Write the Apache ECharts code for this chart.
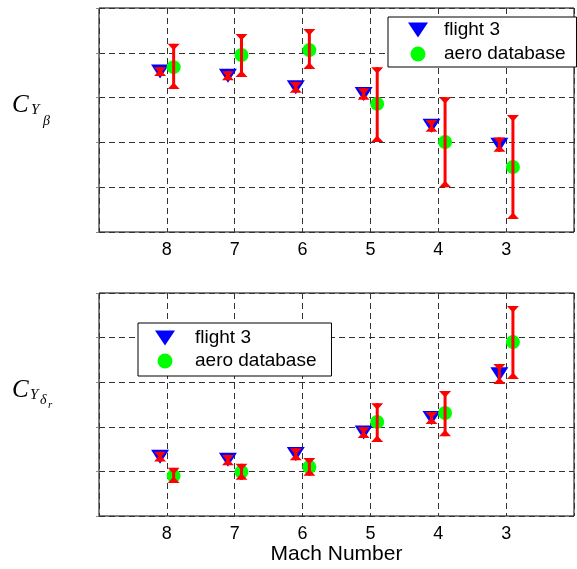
<!DOCTYPE html>
<html><head><meta charset="utf-8">
<script src="https://cdn.jsdelivr.net/npm/echarts@6/dist/echarts.min.js"></script>
<style>html,body{margin:0;padding:0;background:#fff}#c{width:577px;height:569px}</style>
</head><body><div id="c"></div>
<script>
// ---- data ----
const mach = [8, 7, 6, 5, 4, 3];
const machTickLabels = ['8', '7', '6', '5', '4', '3'];

// C_Y_beta panel
const betaFlight     = [3.58, 3.49, 3.23, 3.08, 2.37, 1.95];
const betaFlightLow  = [3.48, 3.39, 3.11, 2.95, 2.24, 1.79];
const betaFlightHigh = [3.68, 3.59, 3.35, 3.21, 2.50, 2.11];
const betaAero       = [3.68, 3.95, 4.06, 2.86, 2.01, 1.45];
const betaAeroLow    = [3.19, 3.46, 3.64, 2.01, 1.00, 0.29];
const betaAeroHigh   = [4.20, 4.42, 4.53, 3.68, 3.01, 2.61];

// C_Y_delta_r panel
const drFlight     = [1.33, 1.26, 1.39, 1.87, 2.20, 3.18];
const drFlightLow  = [1.22, 1.14, 1.25, 1.75, 2.06, 2.96];
const drFlightHigh = [1.44, 1.37, 1.52, 1.99, 2.33, 3.41];
const drAero       = [0.90, 0.99, 1.10, 2.11, 2.31, 3.90];
const drAeroLow    = [0.74, 0.81, 0.90, 1.66, 1.79, 3.07];
const drAeroHigh   = [1.08, 1.17, 1.30, 2.53, 2.80, 4.71];

// ---- styling constants ----
const FLIGHT_SHIFT = 0.1, AERO_SHIFT = -0.1;
const SANS = "'Liberation Sans', Arial, sans-serif";
const SERIF = "'Liberation Serif', 'Times New Roman', serif";
const TRI = 'path://M0,0L20,0L10,15Z';

const chart = echarts.init(document.getElementById('c'), null, {renderer: 'canvas'});

function pts(vals, shift) { return mach.map((m, i) => [m + shift, vals[i]]); }
function errs(lo, hi, shift) { return mach.map((m, i) => [m + shift, lo[i], hi[i]]); }

function errRender(params, api) {
  const top = api.coord([api.value(0), api.value(2)]);
  const bot = api.coord([api.value(0), api.value(1)]);
  const w = 6, h = 6.5;
  return {
    type: 'group',
    children: [
      {type: 'line', shape: {x1: top[0], y1: top[1], x2: bot[0], y2: bot[1]}, style: {stroke: '#ff0000', lineWidth: 3}},
      {type: 'polygon', shape: {points: [[top[0]-w, top[1]], [top[0]+w, top[1]], [top[0], top[1]+h]]}, style: {fill: '#ff0000'}},
      {type: 'polygon', shape: {points: [[bot[0]-w, bot[1]], [bot[0]+w, bot[1]], [bot[0], bot[1]-h]]}, style: {fill: '#ff0000'}}
    ]
  };
}

function xAxisFor(idx, withName) {
  const ax = {
    type: 'value', gridIndex: idx, min: 2, max: 9, interval: 1, inverse: true,
    axisLine: {show: false}, axisTick: {show: false},
    axisLabel: {
      color: '#000', fontSize: 18, fontFamily: SANS, margin: 9,
      formatter: v => { const i = mach.indexOf(v); return i >= 0 ? machTickLabels[i] : ''; }
    },
    splitLine: {show: true, lineStyle: {color: '#333', type: [6, 4], width: 1}}
  };
  if (withName) {
    ax.name = 'Mach Number';
    ax.nameLocation = 'middle';
    ax.nameGap = 25;
    ax.nameTextStyle = {color: '#000', fontSize: 21, fontFamily: SANS};
  }
  return ax;
}
function yAxisFor(idx) {
  return {
    type: 'value', gridIndex: idx, min: 0, max: 5, interval: 1,
    axisLine: {show: false},
    axisTick: {show: true, length: 3, lineStyle: {color: '#888'}},
    axisLabel: {show: false},
    splitLine: {show: true, lineStyle: {color: '#333', type: [6, 4], width: 1}}
  };
}

function panelSeries(idx, fl, flLo, flHi, ae, aeLo, aeHi) {
  return [
    {name: 'flight 3', type: 'scatter', xAxisIndex: idx, yAxisIndex: idx, data: pts(fl, FLIGHT_SHIFT),
     symbol: 'triangle', symbolRotate: 180, symbolSize: [18, 14], itemStyle: {color: '#0000ff', opacity: 1}, z: 3},
    {name: 'flight err', type: 'custom', xAxisIndex: idx, yAxisIndex: idx, data: errs(flLo, flHi, FLIGHT_SHIFT),
     renderItem: errRender, encode: {x: 0, y: [1, 2]}, z: 4},
    {name: 'aero database', type: 'scatter', xAxisIndex: idx, yAxisIndex: idx, data: pts(ae, AERO_SHIFT),
     symbol: 'circle', symbolSize: 14, itemStyle: {color: '#00ff00', opacity: 1}, z: 3},
    {name: 'aero err', type: 'custom', xAxisIndex: idx, yAxisIndex: idx, data: errs(aeLo, aeHi, AERO_SHIFT),
     renderItem: errRender, encode: {x: 0, y: [1, 2]}, z: 4}
  ];
}

function legendAt(left, top, padding, gap, textPad) {
  return {
    left: left, top: top, orient: 'vertical', selectedMode: false,
    backgroundColor: '#fff', borderColor: '#000', borderWidth: 1, borderRadius: 0,
    padding: padding, itemGap: gap, itemWidth: 20, itemHeight: 15,
    textStyle: {color: '#000', fontSize: 19, fontFamily: SANS, lineHeight: 20, padding: [0, 0, 0, textPad]},
    data: [
      {name: 'flight 3', icon: TRI, itemStyle: {color: '#0000ff'}},
      {name: 'aero database', icon: 'circle', itemStyle: {color: '#00ff00'}}
    ],
    z: 10
  };
}

const sym = (txt, x, y, size) => ({
  type: 'text', x: x, y: y,
  style: {text: txt, fontFamily: SERIF, fontStyle: 'italic', fontSize: size, fill: '#000', verticalAlign: 'middle'}
});

const option = {
  backgroundColor: '#fff',
  animation: false,
  grid: [
    {left: 99, top: 8, width: 476, height: 224, show: true, borderColor: '#000', borderWidth: 1, backgroundColor: '#fff'},
    {left: 99, top: 293, width: 476, height: 223, show: true, borderColor: '#000', borderWidth: 1, backgroundColor: '#fff'}
  ],
  xAxis: [xAxisFor(0, false), xAxisFor(1, true)],
  yAxis: [yAxisFor(0), yAxisFor(1)],
  legend: [
    legendAt(388, 17, [3, 11, 3, 20], 4, 11),
    legendAt(138, 323, [5, 15, 5, 17], 3, 15)
  ],
  graphic: [
    sym('C', 12, 105, 25),
    sym('Y', 31, 110, 15),
    sym('β', 43, 121, 14),
    sym('C', 12, 390, 25),
    sym('Y', 30, 395, 15),
    sym('δ', 40, 400, 14),
    sym('r', 48, 405, 11)
  ],
  series: [
    ...panelSeries(0, betaFlight, betaFlightLow, betaFlightHigh, betaAero, betaAeroLow, betaAeroHigh),
    ...panelSeries(1, drFlight, drFlightLow, drFlightHigh, drAero, drAeroLow, drAeroHigh)
  ]
};
chart.setOption(option);
</script>
</body></html>
